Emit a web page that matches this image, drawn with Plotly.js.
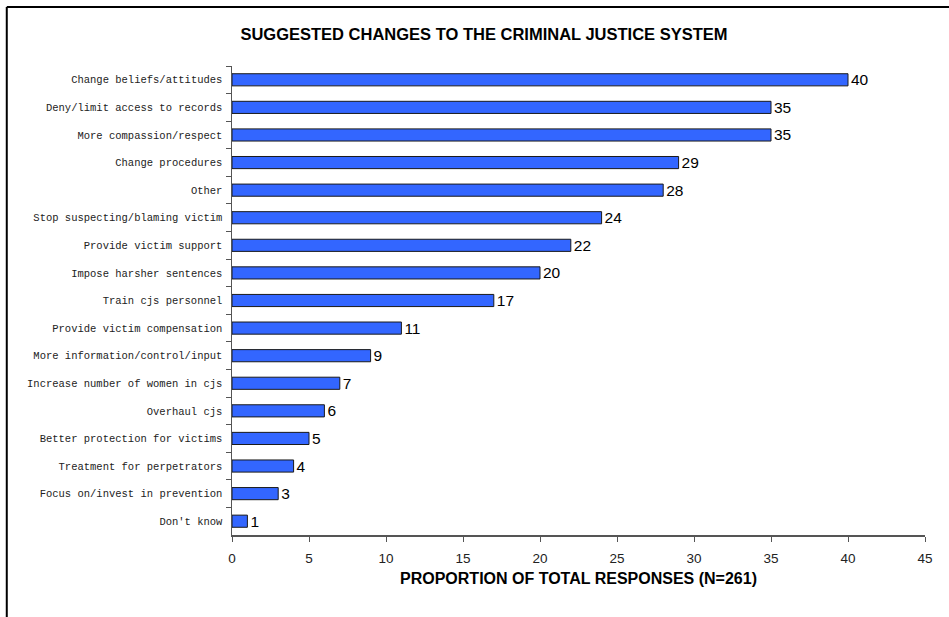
<!DOCTYPE html>
<html>
<head>
<meta charset="utf-8">
<script src="https://cdn.plot.ly/plotly-3.0.1.min.js"></script>
<style>html,body{margin:0;padding:0;background:#fff;}#chart{width:949px;height:617px;}</style>
</head>
<body>
<div id="chart"></div>
<script>
const categories = [
  "Change beliefs/attitudes",
  "Deny/limit access to records",
  "More compassion/respect",
  "Change procedures",
  "Other",
  "Stop suspecting/blaming victim",
  "Provide victim support",
  "Impose harsher sentences",
  "Train cjs personnel",
  "Provide victim compensation",
  "More information/control/input",
  "Increase number of women in cjs",
  "Overhaul cjs",
  "Better protection for victims",
  "Treatment for perpetrators",
  "Focus on/invest in prevention",
  "Don't know"
];
const values = [40, 35, 35, 29, 28, 24, 22, 20, 17, 11, 9, 7, 6, 5, 4, 3, 1];
const xTicks = [0, 5, 10, 15, 20, 25, 30, 35, 40, 45];
const titleText = "SUGGESTED CHANGES TO THE CRIMINAL JUSTICE SYSTEM";
const xTitleText = "PROPORTION OF TOTAL RESPONSES (N=261)";

const trace = {
  type: "bar",
  orientation: "h",
  x: values,
  y: categories,
  text: values.map(String),
  textposition: "outside",
  constraintext: "none",
  cliponaxis: false,
  textfont: {family: "Liberation Sans, Arial, sans-serif", size: 15.5, color: "#000"},
  marker: {color: "#3366FF", line: {color: "#1a1a1a", width: 1}},
  hoverinfo: "none"
};

const layout = {
  width: 949, height: 617,
  margin: {l: 232, r: 24, t: 66, b: 82},
  paper_bgcolor: "#fff", plot_bgcolor: "#fff",
  bargap: 0.56,
  showlegend: false,
  title: {
    text: "<b>" + titleText + "</b>",
    x: 484 / 949, xanchor: "center", xref: "container",
    y: 1 - 34 / 617, yref: "container", yanchor: "middle",
    font: {family: "Liberation Sans, Arial, sans-serif", size: 16.5, color: "#000"}
  },
  xaxis: {
    range: [0, 45],
    tickvals: xTicks,
    ticktext: xTicks.map(String),
    showgrid: false, zeroline: false,
    showline: true, linecolor: "#555", linewidth: 1.5,
    ticks: "outside", ticklen: 5, tickcolor: "#555", tickwidth: 1,
    ticklabelstandoff: 5,
    tickfont: {family: "Liberation Sans, Arial, sans-serif", size: 13.5, color: "#222"},
    title: {
      text: "<b>" + xTitleText + "</b>",
      standoff: 8,
      font: {family: "Liberation Sans, Arial, sans-serif", size: 16, color: "#000"}
    }
  },
  yaxis: {
    type: "category",
    autorange: "reversed",
    showgrid: false, zeroline: false,
    showline: true, linecolor: "#555", linewidth: 1.5,
    ticks: "outside", tickson: "boundaries", ticklen: 5, tickcolor: "#555", tickwidth: 1,
    ticklabelstandoff: 6,
    tickfont: {family: "Liberation Mono, Courier New, monospace", size: 10.5, color: "#222"}
  },
  shapes: [
    {type: "line", xref: "paper", yref: "paper", x0: -0.325, x1: 1.05, y0: 1.126, y1: 1.126, line: {color: "#000", width: 2}},
    {type: "line", xref: "paper", yref: "paper", x0: -0.325, x1: -0.325, y0: 1.126, y1: -0.2, line: {color: "#000", width: 2}}
  ]
};

Plotly.newPlot("chart", [trace], layout, {staticPlot: true, displayModeBar: false});
</script>
</body>
</html>
